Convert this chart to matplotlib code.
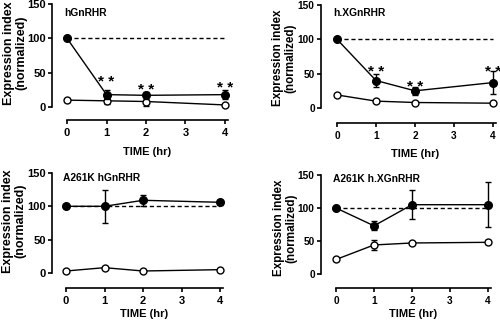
import matplotlib
matplotlib.use("Agg")
import matplotlib.pyplot as plt

plt.rcParams['font.family'] = ['Liberation Sans', 'DejaVu Sans']
plt.rcParams['font.weight'] = 'bold'

times = [0, 1, 2, 4]
baseline = 100

titles = ["hGnRHR", "h.XGnRHR", "A261K hGnRHR", "A261K h.XGnRHR"]

filled_mean = [
    [100, 18, 17, 18],
    [100, 40, 25, 37],
    [100, 100, 109, 106],
    [100, 73, 105, 105],
]
filled_err = [
    [0, 7, 5, 7],
    [0, 10, 6, 17],
    [0, 25, 8, 4],
    [0, 7, 22, 34],
]
open_mean = [
    [10, 9, 8, 3],
    [19, 10, 8, 7],
    [3, 8, 3, 5],
    [22, 44, 47, 48],
]
open_err = [
    [2, 4, 6, 0],
    [2, 1, 1, 0],
    [0, 0, 0, 0],
    [3, 8, 1, 3],
]
stars = [
    ["", "* *", "* *", "* *"],
    ["", "* *", "* *", "* *"],
    ["", "", "", ""],
    ["", "", "", ""],
]
star_y = [
    [0, 44, 32, 35],
    [0, 60, 38, 60],
    [0, 0, 0, 0],
    [0, 0, 0, 0],
]

# layout in pixels: (yaxis_x, x0_px, px_per_hr, y0_px, px_per_unit, xaxis_y)
layout = [
    (52, 67, 39.5, 107, 0.687, 120),
    (321, 337, 39.0, 108, 0.687, 123),
    (52, 66, 38.5, 273, 0.667, 288),
    (321, 336, 38.0, 274, 0.66, 288),
]
# title (left px, centre y px), ylabel (right edge px, centre y px), xlabel (centre px, top px)
title_px = [(64, 13), (333, 13), (63, 178), (333, 179)]
ylab_px = [(27, 53), (296, 58), (26, 221), (297, 228)]
ylab_fs = [9, 8.4, 9, 8.4]
tick_fs = [8, 7.3, 8, 7.3]
xlab_px = [(147, 147), (415, 149), (144, 309), (413, 309)]

W, H = 500, 322
fig = plt.figure(figsize=(5, 3.22), dpi=100)

for i in range(4):
    yx, x0, sx, y0, sy, xay = layout[i]
    xl = (yx - x0) / sx
    xr = 4.15
    yb = -(xay - y0) / sy
    yt = 153
    left = yx
    right = x0 + xr * sx
    top = y0 - yt * sy
    bottom = xay
    aw, ah = right - left, bottom - top
    ax = fig.add_axes([left / W, 1 - bottom / H, aw / W, ah / H])

    def to_ax(px, py):
        return (px - left) / aw, (bottom - py) / ah

    ax.set_xlim(xl, xr)
    ax.set_ylim(yb, yt)
    for s in ['top', 'right']:
        ax.spines[s].set_visible(False)
    ax.spines['left'].set_bounds(0, 150)
    ax.spines['bottom'].set_bounds(0, 4.08)
    ax.spines['left'].set_linewidth(1.2)
    ax.spines['bottom'].set_linewidth(1.2)
    ax.set_yticks([0, 50, 100, 150])
    ax.set_xticks([0, 1, 2, 3, 4])
    ax.tick_params(axis='y', direction='out', length=3, width=1.2, labelsize=tick_fs[i], pad=1.5)
    ax.tick_params(axis='x', direction='out', length=3, width=1.2, labelsize=tick_fs[i], pad=2.5)
    for lab in ax.get_xticklabels() + ax.get_yticklabels():
        lab.set_fontweight('bold')

    ax.hlines(baseline, times[0], times[-1], colors='black', linestyles=(0, (3, 2)), linewidth=1)

    ax.errorbar(times, open_mean[i], yerr=open_err[i], fmt='-o', color='black', mfc='white',
                mec='black', ms=5, lw=1, capsize=2.5, elinewidth=1, mew=1, zorder=3)
    ax.errorbar(times, filled_mean[i], yerr=filled_err[i], fmt='-o', color='black', mfc='black',
                mec='black', ms=5.5, lw=1, capsize=2.5, elinewidth=1, mew=1, zorder=4)

    for t, y, s in zip(times, star_y[i], stars[i]):
        if s:
            ax.annotate(s, (t, y), xytext=(0, -6.6), textcoords='offset points',
                        ha='center', va='baseline', fontsize=11, fontweight='bold')

    tx, ty = to_ax(*title_px[i])
    ax.text(tx, ty, titles[i], ha='left', va='center', fontsize=7.4, fontweight='bold',
            transform=ax.transAxes)
    ax.set_ylabel("Expression index\n(normalized)", fontsize=ylab_fs[i], fontweight='bold',
                  linespacing=1.05)
    ax.yaxis.set_label_coords(*to_ax(*ylab_px[i]))
    ax.set_xlabel("TIME (hr)", fontsize=8, fontweight='bold')
    lx, ly = to_ax(*xlab_px[i])
    ax.xaxis.set_label_coords(lx, ly)

fig.savefig("out.png", dpi=100)
